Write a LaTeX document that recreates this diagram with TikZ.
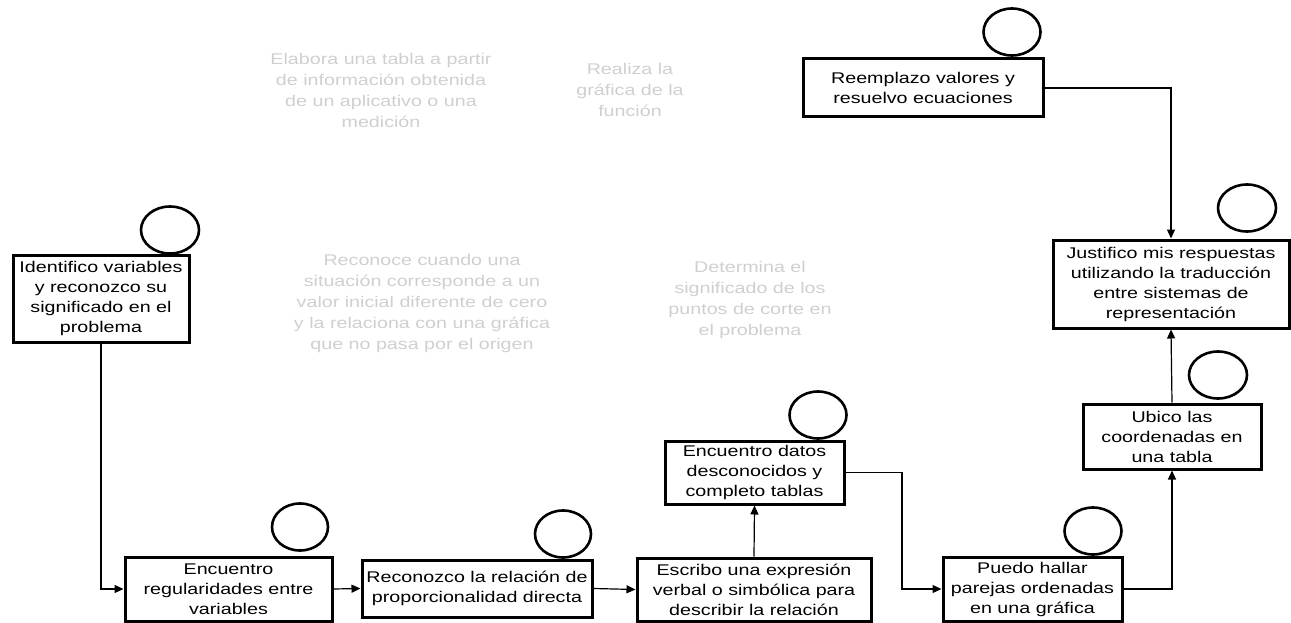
\documentclass[tikz,border=0pt]{standalone}
\usepackage{fontspec}
\setmainfont{Liberation Sans}[FakeStretch=1.27]
\usetikzlibrary{shapes.geometric,arrows.meta}
\begin{document}
\begin{tikzpicture}[x=1pt,y=-1pt,
  box/.style={draw,line width=3pt,fill=white,align=center,inner sep=0pt,
    font=\fontsize{15.5}{20}\selectfont},
  ring/.style={draw,ellipse,line width=2.6pt,inner sep=0pt},
  ghost/.style={align=center,text=black!19,font=\fontsize{15.5}{21}\selectfont},
  link/.style={draw,line width=1.2pt,-{Triangle[length=9pt,width=8pt]}},
  plain/.style={draw,line width=1.2pt}]
\useasboundingbox (0,0) rectangle (1291,623);

% boxes
\node[box,minimum width=176,minimum height=87] (b1) at (101,298.5)
  {Identifico variables\\y reconozco su\\significado en el\\problema};
\node[box,minimum width=207,minimum height=64] (b2) at (228.5,589)
  {Encuentro\\regularidades entre\\variables};
\node[box,minimum width=230,minimum height=57] (b3) at (477,588.5)
  {Reconozco la relación de\\proporcionalidad directa};
\node[box,minimum width=234,minimum height=63] (b4) at (754,589.5)
  {Escribo una expresión\\verbal o simbólica para\\describir la relación};
\node[box,minimum width=179,minimum height=63] (b5) at (754.5,472.5)
  {Encuentro datos\\desconocidos y\\completo tablas};
\node[box,minimum width=179,minimum height=64] (b6) at (1032.5,589)
  {Puedo hallar\\parejas ordenadas\\en una gráfica};
\node[box,minimum width=178,minimum height=65] (b7) at (1172,436.5)
  {Ubico las\\coordenadas en\\una tabla};
\node[box,minimum width=236,minimum height=88] (b8) at (1171,284)
  {Justifico mis respuestas\\utilizando la traducción\\entre sistemas de\\representación};
\node[box,minimum width=240,minimum height=58] (b9) at (923,88)
  {Reemplazo valores y\\resuelvo ecuaciones};

% ellipses
\node[ring,minimum width=58,minimum height=47] (e1) at (170,230) {};
\node[ring,minimum width=56,minimum height=47] (e2) at (300,527) {};
\node[ring,minimum width=56,minimum height=47] (e3) at (563,534) {};
\node[ring,minimum width=57,minimum height=47] (e5) at (818,415) {};
\node[ring,minimum width=57,minimum height=47] (e6) at (1093,531) {};
\node[ring,minimum width=58,minimum height=47] (e7) at (1218,375) {};
\node[ring,minimum width=58,minimum height=47] (e8) at (1247,208) {};
\node[ring,minimum width=57,minimum height=47] (e9) at (1012,32) {};

% faint texts
\node[ghost] (g1) at (381,90)
  {Elabora una tabla a partir\\de información obtenida\\de un aplicativo o una\\medición};
\node[ghost] (g2) at (630,90)
  {Realiza la\\gráfica de la\\función};
\node[ghost] (g3) at (422,303)
  {Reconoce cuando una\\situación corresponde a un\\valor inicial diferente de cero\\y la relaciona con una gráfica\\que no pasa por el origen};
\node[ghost] (g4) at (750,299.5)
  {Determina el\\significado de los\\puntos de corte en\\el problema};

% connectors
\draw[link] (b1.south) |- (b2.west);
\draw[link] (b2.east) -- (b3.west);
\draw[link] (b3.east) -- (b4.west);
\draw[link] (b4.north) -- (b5.south);
\coordinate (k1) at (902,472.5);
\draw[link] (b5.east) -- (k1) |- (b6.west);
\draw[link] (b6.east) -| (b7.south);
\draw[link] (b7.north) -- (b8.south);
\draw[link] (b9.east) -| (b8.north);
\end{tikzpicture}
\end{document}
